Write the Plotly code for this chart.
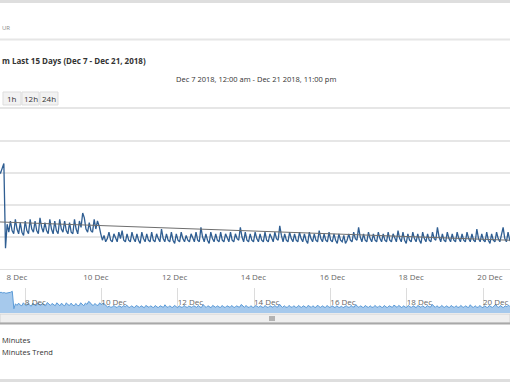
import pandas as pd
import plotly.graph_objects as go

# ---------------- data (hourly, Dec 7 00:00 - Dec 21 23:00) ----------------
dec07 = [61, 60, 62, 61, 63, 62, 60, 61, 62, 63, 61, 62, 60, 61, 60, 63, 66, 13, 28, 23, 30, 24, 22, 31]
dec08 = [25, 22, 29, 23, 21, 30, 24, 22, 31, 25, 23, 30, 24, 22, 32, 26, 23, 29, 24, 22, 31, 25, 22, 30]
dec09 = [24, 22, 31, 25, 23, 30, 24, 22, 29, 23, 22, 31, 25, 22, 30, 26, 35, 32, 25, 23, 29, 24, 23, 31]
dec10 = [25, 30, 27, 22, 18, 21, 17, 19, 23, 18, 17, 22, 19, 17, 23, 19, 24, 18, 17, 22, 18, 17, 23, 19]
dec11 = [17, 22, 18, 16, 23, 19, 17, 22, 18, 17, 23, 18, 17, 22, 19, 17, 25, 19, 17, 22, 18, 17, 23, 18]
dec12 = [16, 22, 18, 17, 23, 19, 17, 21, 18, 17, 22, 19, 17, 23, 18, 17, 26, 20, 17, 22, 18, 16, 23, 19]
dec13 = [17, 22, 18, 17, 23, 18, 17, 22, 19, 17, 23, 18, 17, 22, 19, 18, 26, 20, 17, 23, 18, 17, 22, 18]
dec14 = [17, 23, 19, 17, 22, 18, 17, 23, 18, 17, 22, 19, 17, 23, 19, 18, 27, 21, 17, 22, 18, 17, 23, 19]
dec15 = [17, 22, 18, 17, 23, 19, 17, 22, 18, 16, 23, 19, 17, 22, 18, 17, 24, 19, 17, 22, 18, 17, 23, 18]
dec16 = [17, 22, 18, 16, 22, 18, 17, 21, 16, 18, 22, 18, 17, 23, 19, 18, 26, 20, 17, 22, 18, 17, 23, 19]
dec17 = [17, 22, 18, 17, 23, 19, 17, 22, 18, 17, 23, 18, 17, 22, 19, 17, 24, 19, 17, 23, 18, 16, 22, 18]
dec18 = [17, 23, 19, 17, 22, 18, 16, 23, 19, 17, 22, 18, 17, 23, 19, 18, 26, 20, 17, 22, 18, 17, 23, 19]
dec19 = [17, 22, 18, 17, 23, 19, 17, 22, 18, 17, 23, 19, 17, 22, 18, 17, 25, 19, 17, 22, 18, 17, 23, 18]
dec20 = [16, 22, 18, 17, 23, 19, 17, 22, 26, 19, 17, 23, 18, 17, 22, 19, 24, 19, 17, 22, 18, 17, 23, 19]
dec21 = [17, 22, 18, 17, 23, 19, 17, 22, 18, 17, 23, 19, 17, 22, 18, 17, 25, 19, 17, 22, 18, 17, 23, 19]

trend_dates = ["2018-12-07 00:00", "2018-12-21 23:00"]
trend_values = [29.9, 16.7]

tick_dates = ["2018-12-08", "2018-12-10", "2018-12-12", "2018-12-14",
              "2018-12-16", "2018-12-18", "2018-12-20"]
tick_labels = ["8 Dec", "10 Dec", "12 Dec", "14 Dec", "16 Dec", "18 Dec", "20 Dec"]

series_name = "Minutes"
trend_name = "Minutes Trend"
title_text = "m Last 15 Days (Dec 7 - Dec 21, 2018)"
range_text = "Dec 7 2018, 12:00 am - Dec 21 2018, 11:00 pm"
button_labels = ["1h", "12h", "24h"]

minutes = (dec07 + dec08 + dec09 + dec10 + dec11 + dec12 + dec13 + dec14 +
           dec15 + dec16 + dec17 + dec18 + dec19 + dec20 + dec21)
hours = pd.date_range("2018-12-07 00:00", periods=len(minutes), freq="h")

# ---------------- layout helpers ----------------
W, H = 510, 382
FONT = "Open Sans, Segoe UI, sans-serif"


def px(x):
    return x / W


def py(y):
    return 1 - y / H


fig = go.Figure()

# main series
fig.add_trace(go.Scatter(x=hours, y=minutes, name=series_name, mode="lines",
                         line=dict(color="#2f5e92", width=1.3),
                         xaxis="x", yaxis="y", showlegend=False,
                         hoverinfo="skip"))
# trend
fig.add_trace(go.Scatter(x=trend_dates, y=trend_values, name=trend_name, mode="lines",
                         line=dict(color="#6e6e6e", width=1),
                         xaxis="x", yaxis="y", showlegend=False,
                         hoverinfo="skip"))
# navigator series
fig.add_trace(go.Scatter(x=hours, y=minutes, mode="lines", fill="tozeroy",
                         line=dict(color="#5b9bd8", width=1),
                         fillcolor="#a6c9ec",
                         xaxis="x2", yaxis="y2", showlegend=False,
                         hoverinfo="skip"))

shapes = []
# page background bands
shapes.append(dict(type="rect", xref="paper", yref="paper", x0=0, x1=1,
                   y0=py(3), y1=1, fillcolor="#dedede", line_width=0, layer="below"))
shapes.append(dict(type="rect", xref="paper", yref="paper", x0=0, x1=1,
                   y0=0, y1=py(379), fillcolor="#dedede", line_width=0, layer="below"))
# separators
for yy in (39.5, 108):
    shapes.append(dict(type="line", xref="paper", yref="paper", x0=0, x1=1,
                       y0=py(yy), y1=py(yy), line=dict(color="#e6e6e6", width=2)))
# range buttons
bx = [(3, 21), (22, 39), (40, 58)]
for (a, b) in bx:
    shapes.append(dict(type="rect", xref="paper", yref="paper", x0=px(a), x1=px(b),
                       y0=py(105), y1=py(92), fillcolor="#f2f2f2",
                       line=dict(color="#dddddd", width=1)))
# scrollbar
shapes.append(dict(type="rect", xref="paper", yref="paper", x0=0, x1=1,
                   y0=py(323), y1=py(314), fillcolor="#efefef",
                   line=dict(color="#d4d4d4", width=1)))
shapes.append(dict(type="line", xref="paper", yref="paper", x0=0, x1=1,
                   y0=py(323.5), y1=py(323.5), line=dict(color="#a8a8a8", width=2)))
for gx in (270, 272, 274):
    shapes.append(dict(type="line", xref="paper", yref="paper", x0=px(gx), x1=px(gx),
                       y0=py(321), y1=py(316), line=dict(color="#777777", width=1)))

annotations = []
annotations.append(dict(text="UR", x=0, y=py(28), xref="paper", yref="paper",
                        xanchor="left", yanchor="middle", showarrow=False,
                        font=dict(family=FONT, size=6, color="#8a8a8a")))
annotations.append(dict(text="<b>" + title_text + "</b>", x=0, y=py(60),
                        xref="paper", yref="paper", xanchor="left", yanchor="middle",
                        showarrow=False, font=dict(family=FONT, size=8, color="#333333")))
annotations.append(dict(text=range_text, x=px(256), y=py(79), xref="paper", yref="paper",
                        xanchor="center", yanchor="middle", showarrow=False,
                        font=dict(family=FONT, size=7.5, color="#333333")))
for (a, b), lab in zip(bx, button_labels):
    annotations.append(dict(text=lab, x=px((a + b) / 2), y=py(98.5), xref="paper",
                            yref="paper", xanchor="center", yanchor="middle",
                            showarrow=False,
                            font=dict(family=FONT, size=8, color="#333333")))
annotations.append(dict(text=series_name, x=0, y=py(340), xref="paper", yref="paper",
                        xanchor="left", yanchor="middle", showarrow=False,
                        font=dict(family=FONT, size=7.5, color="#333333")))
annotations.append(dict(text=trend_name, x=0, y=py(352), xref="paper", yref="paper",
                        xanchor="left", yanchor="middle", showarrow=False,
                        font=dict(family=FONT, size=7.5, color="#333333")))

fig.update_layout(
    width=W, height=H,
    margin=dict(l=0, r=0, t=0, b=0),
    paper_bgcolor="#ffffff", plot_bgcolor="rgba(0,0,0,0)",
    font=dict(family=FONT, size=8, color="#666666"),
    showlegend=False, hovermode=False,
    shapes=shapes, annotations=annotations,
    xaxis=dict(domain=[0, 1], anchor="y", type="date",
               range=["2018-12-07 13:39", "2018-12-20 12:11"],
               tickvals=tick_dates, ticktext=tick_labels, ticks="",
               showgrid=False, zeroline=False, showline=True,
               linecolor="#e0e0e0", linewidth=1,
               tickfont=dict(family=FONT, size=8, color="#666666")),
    yaxis=dict(domain=[py(269), py(133)], anchor="x", range=[0, 85], dtick=20,
               showgrid=True, gridcolor="#e6e6e6", gridwidth=1.5,
               zeroline=False, showticklabels=False, ticks=""),
    xaxis2=dict(domain=[0, 1], anchor="y2", type="date",
                range=["2018-12-07 08:17", "2018-12-20 16:58"],
                tickvals=tick_dates, ticktext=tick_labels, ticks="",
                ticklabelposition="inside right",
                showgrid=True, gridcolor="#dcdcdc", gridwidth=1,
                zeroline=False, showline=False,
                tickfont=dict(family=FONT, size=8, color="#666666")),
    yaxis2=dict(domain=[py(313), py(288)], anchor="x2", range=[0, 76],
                showgrid=False, zeroline=False, showticklabels=False, ticks=""),
)

fig.write_html("out.html", config={"displayModeBar": False},
               post_script="document.body.style.margin='0';document.body.style.overflow='hidden';")
